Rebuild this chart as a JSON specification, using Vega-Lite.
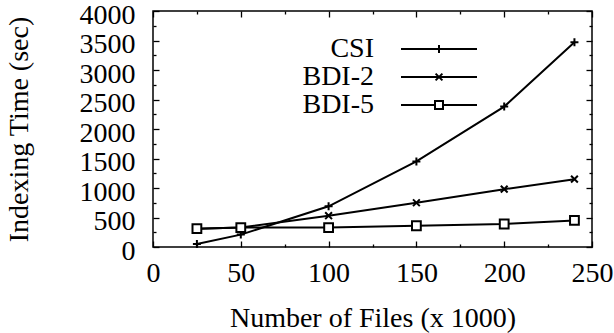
{
  "$schema": "https://vega.github.io/schema/vega-lite/v6.json",
  "width": 439,
  "height": 236,
  "autosize": "none",
  "padding": {"left": 153, "top": 11, "right": 22, "bottom": 86},
  "background": "white",
  "config": {
    "view": {"stroke": "black", "strokeWidth": 1.5},
    "font": "Liberation Serif",
    "axis": {
      "domain": false,
      "grid": false,
      "tickColor": "black",
      "tickWidth": 1.3,
      "labelColor": "black",
      "labelFont": "Liberation Serif",
      "labelFontSize": 28,
      "titleFont": "Liberation Serif",
      "titleFontSize": 28,
      "titleFontWeight": "normal",
      "titleColor": "black",
      "labelFlush": false,
      "labelOverlap": false
    },
    "legend": {
      "labelFont": "Liberation Serif",
      "labelFontSize": 28,
      "labelColor": "black"
    }
  },
  "data": {
    "values": [
      {"series": "CSI", "files": 25, "time": 50},
      {"series": "CSI", "files": 50, "time": 210},
      {"series": "CSI", "files": 100, "time": 690},
      {"series": "CSI", "files": 150, "time": 1450},
      {"series": "CSI", "files": 200, "time": 2380},
      {"series": "CSI", "files": 240, "time": 3470},
      {"series": "BDI-2", "files": 25, "time": 310},
      {"series": "BDI-2", "files": 50, "time": 330},
      {"series": "BDI-2", "files": 100, "time": 530},
      {"series": "BDI-2", "files": 150, "time": 750},
      {"series": "BDI-2", "files": 200, "time": 980},
      {"series": "BDI-2", "files": 240, "time": 1150},
      {"series": "BDI-5", "files": 25, "time": 310},
      {"series": "BDI-5", "files": 50, "time": 330},
      {"series": "BDI-5", "files": 100, "time": 330},
      {"series": "BDI-5", "files": 150, "time": 360},
      {"series": "BDI-5", "files": 200, "time": 390},
      {"series": "BDI-5", "files": 240, "time": 450}
    ]
  },
  "layer": [
    {
      "mark": {"type": "line", "color": "black", "strokeWidth": 2},
      "encoding": {
        "x": {
          "field": "files", "type": "quantitative",
          "scale": {"domain": [0, 250], "nice": false, "zero": false},
          "axis": {
            "orient": "bottom",
            "values": [0, 25, 50, 75, 100, 125, 150, 175, 200, 225, 250],
            "labelExpr": "datum.value % 50 == 0 ? datum.label : ''",
            "tickSize": {"condition": {"test": "datum.value % 50 == 0", "value": -6}, "value": -3},
            "labelPadding": 18,
            "title": "Number of Files (x 1000)",
            "titlePadding": 14
          }
        },
        "y": {
          "field": "time", "type": "quantitative",
          "scale": {"domain": [0, 4000], "nice": false},
          "axis": {
            "orient": "left",
            "values": [0, 250, 500, 750, 1000, 1250, 1500, 1750, 2000, 2250, 2500, 2750, 3000, 3250, 3500, 3750, 4000],
            "labelExpr": "datum.value % 500 == 0 ? datum.label : ''",
            "format": "d",
            "tickSize": {"condition": {"test": "datum.value % 500 == 0", "value": -6}, "value": -3},
            "labelPadding": 24,
            "labelOffset": 4,
            "title": "Indexing Time (sec)",
            "titlePadding": 46
          }
        },
        "detail": {"field": "series"}
      }
    },
    {
      "mark": {"type": "point", "filled": true, "fill": "white", "stroke": "black", "strokeWidth": 2, "opacity": 1, "size": 64},
      "encoding": {
        "x": {
          "field": "files", "type": "quantitative",
          "scale": {"domain": [0, 250], "nice": false, "zero": false},
          "axis": {
            "orient": "top",
            "values": [0, 25, 50, 75, 100, 125, 150, 175, 200, 225, 250],
            "labels": false,
            "tickSize": {"condition": {"test": "datum.value % 50 == 0", "value": -6}, "value": -3},
            "title": null
          }
        },
        "y": {
          "field": "time", "type": "quantitative",
          "scale": {"domain": [0, 4000], "nice": false},
          "axis": {
            "orient": "right",
            "values": [0, 250, 500, 750, 1000, 1250, 1500, 1750, 2000, 2250, 2500, 2750, 3000, 3250, 3500, 3750, 4000],
            "labels": false,
            "tickSize": {"condition": {"test": "datum.value % 500 == 0", "value": -6}, "value": -3},
            "title": null
          }
        },
        "shape": {
          "field": "series", "type": "nominal",
          "scale": {
            "domain": ["CSI", "BDI-2", "BDI-5"],
            "range": ["M-1,0H1M0,-1V1", "M-0.85,-0.85L0.85,0.85M-0.85,0.85L0.85,-0.85", "M-1.1,-1.1H1.1V1.1H-1.1Z"]
          },
          "legend": null
        }
      }
    },
    {
      "mark": {"type": "point", "filled": false, "stroke": "black", "strokeWidth": 2, "opacity": 0, "size": 64},
      "encoding": {
        "x": {"field": "files", "type": "quantitative", "axis": null},
        "y": {"field": "time", "type": "quantitative", "axis": null},
        "shape": {
          "field": "series", "type": "nominal",
          "scale": {
            "domain": ["CSI", "BDI-2", "BDI-5"],
            "range": ["M-9.5,0H9.5M0,-1V1", "M-9.5,0H9.5M-0.85,-0.85L0.85,0.85M-0.85,0.85L0.85,-0.85", "M-9.5,0H-1M1,0H9.5M-1,-1H1V1H-1Z"]
          },
          "legend": {
            "orient": "none",
            "legendX": 272,
            "legendY": 24,
            "title": null,
            "labelAlign": "right",
            "labelOffset": -79,
            "labelFontSize": 28,
            "symbolSize": 64,
            "symbolStrokeWidth": 2,
            "symbolStrokeColor": "black",
            "symbolOpacity": 1,
            "rowPadding": 0
          }
        }
      }
    }
  ],
  "resolve": {
    "axis": {"x": "independent", "y": "independent"},
    "scale": {"shape": "independent"}
  }
}
